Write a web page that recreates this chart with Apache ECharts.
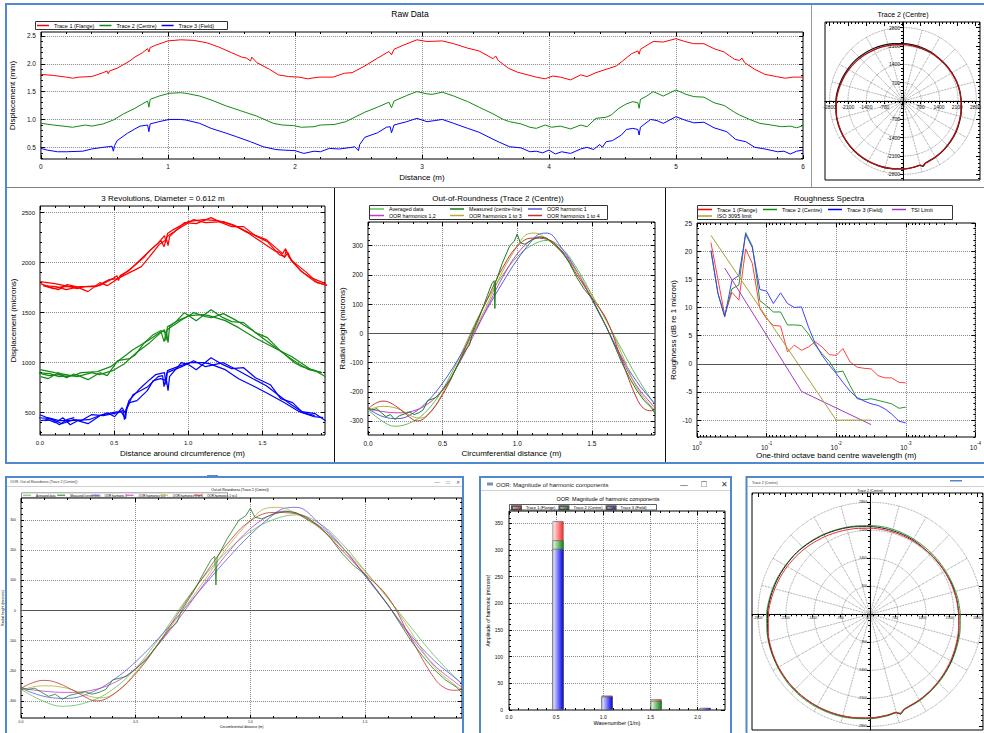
<!DOCTYPE html>
<html><head><meta charset="utf-8">
<script src="https://cdn.jsdelivr.net/npm/echarts@6/dist/echarts.min.js"></script>
<style>html,body{margin:0;padding:0;background:#fff;}#c{width:984px;height:733px;}</style>
</head><body><div id="c"></div>
<script>
// ================= DATA =================
const circumference = 1.923;
const rawTrace1 = [[0,1.81],[0.1,1.79],[0.2,1.76],[0.25,1.74],[0.3,1.76],[0.4,1.77],[0.49,1.84],[0.52,1.87],[0.53,1.82],[0.54,1.87],[0.6,1.92],[0.7,2.05],[0.74,2.12],[0.8,2.2],[0.84,2.27],[0.85,2.21],[0.86,2.29],[0.9,2.33],[1.0,2.41],[1.1,2.43],[1.2,2.42],[1.3,2.38],[1.34,2.35],[1.4,2.3],[1.5,2.2],[1.58,2.12],[1.62,2.1],[1.65,2.05],[1.66,2.12],[1.7,2.02],[1.8,1.9],[1.87,1.8],[1.95,1.77],[2.03,1.76],[2.1,1.73],[2.19,1.76],[2.3,1.76],[2.39,1.83],[2.45,1.84],[2.55,1.96],[2.65,2.1],[2.74,2.22],[2.76,2.16],[2.78,2.26],[2.85,2.33],[2.96,2.43],[3.04,2.4],[3.16,2.41],[3.25,2.36],[3.36,2.28],[3.45,2.23],[3.56,2.09],[3.58,2.14],[3.6,2.06],[3.68,1.92],[3.75,1.85],[3.85,1.79],[3.9,1.76],[3.97,1.73],[4.03,1.78],[4.09,1.76],[4.17,1.71],[4.25,1.8],[4.3,1.77],[4.37,1.84],[4.45,1.9],[4.53,1.96],[4.58,2.05],[4.65,2.18],[4.7,2.23],[4.71,2.17],[4.72,2.26],[4.82,2.4],[4.9,2.39],[5.0,2.45],[5.07,2.4],[5.14,2.36],[5.22,2.36],[5.3,2.27],[5.38,2.21],[5.46,2.08],[5.5,2.06],[5.52,2.1],[5.54,2.02],[5.62,1.9],[5.7,1.81],[5.79,1.77],[5.86,1.74],[5.92,1.76],[6.0,1.76]];
const rawTrace2 = [[0,0.93],[0.1,0.9],[0.25,0.86],[0.3,0.88],[0.35,0.9],[0.4,0.88],[0.49,0.92],[0.57,0.99],[0.65,1.1],[0.74,1.2],[0.8,1.28],[0.84,1.33],[0.85,1.22],[0.86,1.36],[0.93,1.42],[1.01,1.47],[1.1,1.48],[1.14,1.47],[1.25,1.42],[1.34,1.35],[1.45,1.25],[1.58,1.15],[1.7,1.06],[1.83,0.93],[1.9,0.9],[1.99,0.89],[2.05,0.86],[2.15,0.87],[2.2,0.9],[2.31,0.91],[2.4,0.96],[2.55,1.13],[2.65,1.22],[2.74,1.31],[2.76,1.21],[2.78,1.33],[2.88,1.43],[2.96,1.5],[3.04,1.46],[3.08,1.45],[3.16,1.49],[3.25,1.42],[3.36,1.32],[3.45,1.22],[3.56,1.1],[3.64,1.0],[3.69,0.96],[3.78,0.92],[3.85,0.86],[3.9,0.84],[3.97,0.9],[4.02,0.86],[4.09,0.88],[4.17,0.83],[4.25,0.9],[4.3,0.87],[4.37,1.02],[4.45,1.04],[4.49,1.08],[4.55,1.2],[4.61,1.28],[4.66,1.32],[4.7,1.3],[4.71,1.2],[4.72,1.36],[4.77,1.42],[4.82,1.5],[4.9,1.42],[5.0,1.53],[5.08,1.45],[5.14,1.41],[5.22,1.4],[5.3,1.3],[5.38,1.25],[5.46,1.13],[5.5,1.08],[5.58,1.0],[5.66,0.93],[5.75,0.9],[5.83,0.87],[5.9,0.88],[5.95,0.85],[6.0,0.89]];
const rawTrace3 = [[0,0.48],[0.05,0.45],[0.13,0.42],[0.2,0.42],[0.33,0.43],[0.4,0.47],[0.49,0.5],[0.53,0.51],[0.56,0.52],[0.57,0.43],[0.58,0.53],[0.6,0.62],[0.68,0.75],[0.74,0.83],[0.78,0.88],[0.84,0.9],[0.85,0.78],[0.86,0.92],[0.93,0.96],[1.01,1.0],[1.1,1.0],[1.14,0.99],[1.25,0.93],[1.34,0.84],[1.45,0.76],[1.54,0.69],[1.65,0.6],[1.75,0.51],[1.85,0.46],[1.91,0.45],[2.0,0.44],[2.07,0.39],[2.15,0.43],[2.2,0.42],[2.27,0.48],[2.35,0.47],[2.45,0.5],[2.47,0.51],[2.5,0.44],[2.51,0.55],[2.55,0.68],[2.65,0.76],[2.72,0.86],[2.75,0.87],[2.76,0.76],[2.78,0.9],[2.88,0.96],[2.96,1.02],[3.04,0.96],[3.1,0.98],[3.16,1.0],[3.25,0.93],[3.36,0.84],[3.45,0.77],[3.52,0.69],[3.6,0.6],[3.69,0.51],[3.78,0.49],[3.85,0.42],[3.9,0.43],[3.95,0.4],[4.0,0.45],[4.05,0.38],[4.1,0.42],[4.17,0.39],[4.25,0.47],[4.3,0.5],[4.35,0.46],[4.4,0.55],[4.42,0.5],[4.45,0.6],[4.5,0.62],[4.57,0.72],[4.61,0.82],[4.66,0.84],[4.7,0.82],[4.71,0.72],[4.72,0.86],[4.8,1.0],[4.85,0.98],[4.9,0.93],[5.0,1.05],[5.08,0.98],[5.14,0.94],[5.22,0.95],[5.3,0.85],[5.4,0.78],[5.47,0.64],[5.55,0.6],[5.62,0.5],[5.7,0.47],[5.8,0.42],[5.85,0.43],[5.9,0.38],[5.95,0.43],[6.0,0.45]];

const oorAveraged = [[0,-262],[0.1,-302],[0.18,-318],[0.3,-302],[0.4,-262],[0.5,-192],[0.6,-95],[0.66,-30],[0.7,15],[0.8,115],[0.9,198],[1.0,262],[1.1,302],[1.2,318],[1.3,290],[1.4,222],[1.5,132],[1.6,40],[1.7,-55],[1.8,-148],[1.9,-228],[1.923,-245]];
const oorMeasured = [[0,-255],[0.03,-262],[0.06,-258],[0.09,-272],[0.12,-285],[0.15,-278],[0.18,-295],[0.21,-282],[0.25,-275],[0.28,-270],[0.31,-278],[0.34,-272],[0.37,-262],[0.4,-230],[0.43,-225],[0.46,-218],[0.5,-195],[0.55,-160],[0.6,-110],[0.65,-60],[0.68,-40],[0.7,0],[0.75,60],[0.8,130],[0.83,170],[0.845,180],[0.85,85],[0.855,175],[0.9,240],[0.95,300],[0.98,315],[1.0,340],[1.02,310],[1.05,305],[1.1,320],[1.15,330],[1.2,325],[1.3,280],[1.35,240],[1.4,190],[1.45,150],[1.5,120],[1.55,70],[1.6,20],[1.65,-40],[1.7,-100],[1.75,-150],[1.8,-195],[1.85,-230],[1.9,-255],[1.923,-275]];
const oorH1 = [[0,-258],[0.1,-285],[0.2,-292],[0.3,-274],[0.4,-232],[0.5,-170],[0.6,-92],[0.7,-5],[0.8,85],[0.9,172],[1.0,252],[1.1,318],[1.15,340],[1.2,343],[1.3,290],[1.4,212],[1.5,115],[1.6,18],[1.7,-82],[1.8,-165],[1.9,-228],[1.923,-242]];
const oorH12 = [[0,-258],[0.1,-268],[0.2,-272],[0.3,-266],[0.4,-242],[0.5,-192],[0.6,-112],[0.7,-15],[0.8,90],[0.9,190],[1.0,272],[1.1,322],[1.15,330],[1.2,324],[1.3,282],[1.4,210],[1.5,118],[1.6,18],[1.7,-88],[1.8,-180],[1.9,-242],[1.923,-255]];
const oorH13 = [[0,-265],[0.05,-254],[0.1,-250],[0.2,-258],[0.3,-285],[0.35,-290],[0.42,-268],[0.5,-205],[0.6,-108],[0.7,-5],[0.8,100],[0.9,210],[1.0,298],[1.07,340],[1.12,343],[1.2,322],[1.3,275],[1.4,210],[1.5,130],[1.6,42],[1.7,-70],[1.8,-185],[1.9,-252],[1.923,-262]];
const oorH14 = [[0,-258],[0.05,-240],[0.1,-232],[0.15,-238],[0.22,-262],[0.3,-295],[0.33,-300],[0.4,-280],[0.5,-210],[0.6,-108],[0.7,8],[0.8,118],[0.9,222],[1.0,298],[1.1,326],[1.2,322],[1.3,278],[1.4,200],[1.5,122],[1.6,45],[1.7,-92],[1.8,-222],[1.85,-258],[1.9,-265],[1.923,-258]];

const roughBands = [0.63,0.5,0.4,0.315,0.25,0.2,0.16,0.125,0.1,0.08,0.063,0.05,0.04,0.0315,0.025,0.02,0.016,0.0125,0.01,0.008,0.0063,0.005,0.004,0.00315,0.0025,0.002,0.0016,0.00125,0.001];
const roughTrace1 = [21.5,15.0,8.6,12.7,11.3,20.4,17.8,9.8,8.0,6.8,6.7,2.1,3.3,2.4,3.0,3.9,3.0,1.6,1.5,2.7,0.3,-0.6,-0.8,-0.9,-2.1,-2.5,-2.5,-3.3,-3.4];
const roughTrace2 = [20.1,12.5,8.5,13.3,14.0,23.3,20.9,11.2,10.3,9.2,9.2,6.9,6.9,6.8,5.3,3.3,1.8,0.4,-1.5,-1.3,-3.9,-6.2,-6.4,-6.2,-6.5,-6.8,-7.1,-7.9,-7.7];
const roughTrace3 = [20.1,12.5,8.3,14.8,15.7,23.0,20.6,13.2,12.9,10.7,12.6,10.7,10.0,10.1,6.5,3.6,1.5,-0.3,-1.7,-3.3,-4.9,-6.0,-6.6,-7.1,-7.4,-8.0,-8.9,-10.2,-10.5];
const isoBands = [0.63,0.01,0.00315];
const isoLimit = [22.8,-10,-10];
const tsiBands = [0.4,0.0315,0.00315];
const tsiLimit = [17.0,-4.9,-10.8];

const harmWavenumber = [0.52,1.04,1.56,2.08];
const harmTrace1 = [354,27,20,3];
const harmTrace2 = [318,25,17,3];
const harmTrace3 = [302,25,1,4];

const polarAngles = [0,10,20,30,40,50,60,70,80,90,100,110,120,130,140,150,160,170,180,190,200,210,220,230,240,250,260,270,280,285,287,289,290,300,310,320,330,340,350,360];
const polarBlack = [2225,2200,2180,2152,2140,2130,2148,2160,2175,2192,2222,2258,2300,2343,2395,2432,2478,2522,2562,2596,2630,2646,2658,2662,2656,2642,2620,2594,2560,2542,2605,2548,2520,2476,2430,2383,2345,2295,2258,2225];
const polarRed   = [2215,2192,2166,2148,2130,2122,2124,2130,2140,2152,2175,2205,2245,2290,2338,2390,2440,2492,2540,2582,2615,2640,2652,2655,2650,2636,2615,2590,2555,2535,2585,2530,2515,2468,2420,2372,2325,2282,2245,2215];
const polarGreen = [2260,2232,2200,2180,2170,2166,2175,2192,2210,2218,2240,2270,2312,2356,2400,2445,2495,2540,2585,2615,2640,2662,2680,2688,2680,2665,2640,2612,2575,2555,2610,2555,2535,2490,2446,2400,2356,2318,2288,2260];

const rawTicksX = [0,1,2,3,4,5,6];
const rawTicksY = [0.5,1.0,1.5,2.0,2.5];
const revTicksY = [500,1000,1500,2000,2500];
const distTicks = [0,0.5,1.0,1.5];
const oorTicksY = [-300,-200,-100,0,100,200,300];
const roughTicksY = [-10,-5,0,5,10,15,20,25];
const polarTicks = [-2800,-2100,-1400,-700,0,700,1400,2100,2800];
const polarTicksY = [-2800,-2100,-1400,-700,700,1400,2100,2800];
const harmTicksX = [0,0.5,1.0,1.5,2.0];
const harmTicksY = [0,50,100,150,200,250,300,350];

// ================= HELPERS =================
const FONT = 'Liberation Sans, Arial, sans-serif';
const BLUE = '#5188d0';
function range(a, b, s) { const o = []; for (let v = a; v <= b + s * 1e-6; v += s) o.push(Math.round(v * 1e6) / 1e6); return o; }
const grids = [], xAxes = [], yAxes = [], series = [], legends = [], graphics = [];
function addGrid(l, t, w, h) { grids.push({left: l, top: t, width: w, height: h, show: true, borderColor: '#000', borderWidth: 1, backgroundColor: 'transparent', containLabel: false}); return grids.length - 1; }
const tickStyle = {color: '#000', width: 1};
function addAxisSet(list, gi, isX, o) {
  const p0 = isX ? 'bottom' : 'left', p1 = isX ? 'top' : 'right';
  const isLog = o.type === 'log';
  const base = () => ({gridIndex: gi, type: o.type || 'value', min: o.min, max: o.max, inverse: !!o.inverse, silent: true});
  const mk = (values, len, inside) => { const t = {show: true, inside: inside, length: len, lineStyle: tickStyle}; if (!isLog) t.customValues = values; return t; };
  const logMinor = {show: true, splitNumber: 10, length: 2, lineStyle: tickStyle};
  const mainIdx = list.length;
  const main = Object.assign(base(), {
    position: p0, offset: o.offset || 0,
    axisLine: {show: !!o.centerLine, onZero: false, lineStyle: {color: '#000', width: 1}},
    axisTick: mk(o.majors, o.tickLen || 4, !o.tickOut),
    minorTick: isLog ? logMinor : {show: false},
    axisLabel: {show: true, fontSize: o.fs, color: '#111', fontFamily: FONT, margin: o.margin, formatter: o.fmt},
    splitLine: {show: o.split !== false, lineStyle: {type: 'dotted', color: '#8a8a8a', width: 1}}
  });
  if (!isLog) main.axisLabel.customValues = o.labels || o.majors;
  if (o.rich) main.axisLabel.rich = o.rich;
  if (o.name) { main.name = o.name; main.nameLocation = 'middle'; main.nameGap = o.nameGap; main.nameTextStyle = {fontSize: o.nfs, color: '#000', fontFamily: FONT}; }
  list.push(main);
  if (!isLog && o.minors) list.push(Object.assign(base(), {position: p0, offset: o.offset || 0, axisLine: {show: false, onZero: false}, axisTick: mk(o.minors, o.minorLen || 2, !o.tickOut), axisLabel: {show: false}, splitLine: {show: false}, minorTick: {show: false}}));
  if (o.frame !== false) {
    list.push(Object.assign(base(), {position: p1, axisLine: {show: false, onZero: false}, axisTick: mk(o.majors, o.frameLen || 4, true), axisLabel: {show: false}, splitLine: {show: false}, minorTick: isLog ? logMinor : {show: false}}));
    if (!isLog && o.minors) list.push(Object.assign(base(), {position: p1, axisLine: {show: false, onZero: false}, axisTick: mk(o.minors, 2, true), axisLabel: {show: false}, splitLine: {show: false}, minorTick: {show: false}}));
  }
  return mainIdx;
}
function line(name, data, color, xi, yi, extra) {
  return Object.assign({type: 'line', name, data, xAxisIndex: xi, yAxisIndex: yi, showSymbol: false, symbol: 'none', lineStyle: {color, width: 1}, itemStyle: {color}, color, animation: false}, extra || {});
}
function legendItem(names, x, y, fs, iw, ih, gap, fmt) {
  return {data: names, left: x, top: y, orient: 'horizontal', itemWidth: iw, itemHeight: ih, itemGap: gap || 0, padding: 0, icon: 'rect', selectedMode: false, textStyle: {fontSize: fs, color: '#000', fontFamily: FONT}, formatter: fmt};
}
function txt(text, x, y, size, align, color) {
  return {type: 'text', x, y, silent: true, z: 100, style: {text, fontSize: size, fontFamily: FONT, fill: color || '#000', align: align || 'center', textAlign: align || 'center', verticalAlign: 'middle', textVerticalAlign: 'middle'}};
}
function rectStroke(x, y, w, h, color, lw) { return {type: 'rect', silent: true, z: 100, shape: {x, y, width: w, height: h}, style: {fill: 'none', stroke: color, lineWidth: lw || 1}}; }
function rectFill(x, y, w, h, color) { return {type: 'rect', silent: true, z: 100, shape: {x, y, width: w, height: h}, style: {fill: color}}; }
function hline(x1, x2, y, color) { return {type: 'line', silent: true, z: 100, shape: {x1, y1: y, x2, y2: y}, style: {stroke: color, lineWidth: 1}}; }
function vline(x, y1, y2, color) { return {type: 'line', silent: true, z: 100, shape: {x1: x, y1, x2: x, y2}, style: {stroke: color, lineWidth: 1}}; }
const f1 = v => Number(v).toFixed(1);
const f0 = v => String(Math.round(v));

const C1 = '#ff0000', C2 = '#138a13', C3 = '#0000ff';
const COL_AVG = '#5cc05c', COL_MEAS = '#1a7d1a', COL_H1 = '#5a5ae0', COL_H12 = '#c83cc8', COL_H13 = '#b5ad3c', COL_H14 = '#c03535';

// ================= PANEL: RAW DATA =================
const gRaw = addGrid(35, 32, 768, 127);
const rawX = addAxisSet(xAxes, gRaw, true, {min: 0, max: 6, majors: rawTicksX, minors: range(0, 6, 0.2), fmt: f0, fs: 6.5, margin: 4, name: 'Distance (m)', nameGap: 14, nfs: 8});
const rawY = addAxisSet(yAxes, gRaw, false, {min: 0.29, max: 2.57, majors: rawTicksY, minors: range(0.3, 2.5, 0.1), fmt: f1, fs: 6.5, margin: 5, name: 'Displacement (mm)', nameGap: 18, nfs: 8});
series.push(line('Trace 1 (Flange)', rawTrace1, C1, rawX, rawY));
series.push(line('Trace 2 (Centre)', rawTrace2, C2, rawX, rawY));
series.push(line('Trace 3 (Field)', rawTrace3, C3, rawX, rawY));
legends.push(legendItem(['Trace 1 (Flange)', 'Trace 2 (Centre)', 'Trace 3 (Field)'], 37, 22.5, 5.5, 12, 1.5, 5));

// ================= PANEL: 3 REVOLUTIONS =================
const gRev = addGrid(40, 206, 285, 229);
const revX = addAxisSet(xAxes, gRev, true, {min: 0, max: circumference, majors: distTicks, minors: range(0, 1.9, 0.1), fmt: f1, fs: 6, margin: 5, name: 'Distance around circumference (m)', nameGap: 14, nfs: 8});
const revY = addAxisSet(yAxes, gRev, false, {min: 277, max: 2566, majors: revTicksY, minors: range(300, 2500, 100), fmt: f0, fs: 6, margin: 5, name: 'Displacement (microns)', nameGap: 22, nfs: 8});
[[rawTrace1, C1], [rawTrace2, C2], [rawTrace3, C3]].forEach(([tr, col], ti) => {
  for (let k = 0; k < 4; k++) {
    const seg = tr.filter(p => p[0] >= k * circumference - 0.03 && p[0] <= (k + 1) * circumference + 0.03)
                  .map(p => [Math.round((p[0] - k * circumference) * 10000) / 10000, Math.round(p[1] * 1000)]);
    series.push(line('rev' + ti + '_' + k, seg, col, revX, revY, {lineStyle: {color: col, width: 1.2}}));
  }
});

// ================= PANEL: OUT-OF-ROUNDNESS =================
const OOR_NAMES = ['Averaged data', 'Measured (centre-line)', 'OOR harmonic 1', 'OOR harmonics 1,2', 'OOR harmonics 1 to 3', 'OOR harmonics 1 to 4'];
function oorSeries(xi, yi, lw) {
  const zero = {silent: true, symbol: 'none', label: {show: false}, lineStyle: {color: '#555', type: 'solid', width: 1}, data: [{yAxis: 0}]};
  return [
    line(OOR_NAMES[0], oorAveraged, COL_AVG, xi, yi, {smooth: 0.4, lineStyle: {color: COL_AVG, width: lw}, markLine: zero}),
    line(OOR_NAMES[2], oorH1, COL_H1, xi, yi, {smooth: 0.4, lineStyle: {color: COL_H1, width: lw}}),
    line(OOR_NAMES[3], oorH12, COL_H12, xi, yi, {smooth: 0.4, lineStyle: {color: COL_H12, width: lw}}),
    line(OOR_NAMES[4], oorH13, COL_H13, xi, yi, {smooth: 0.4, lineStyle: {color: COL_H13, width: lw}}),
    line(OOR_NAMES[5], oorH14, COL_H14, xi, yi, {smooth: 0.4, lineStyle: {color: COL_H14, width: lw}}),
    line(OOR_NAMES[1], oorMeasured, COL_MEAS, xi, yi, {lineStyle: {color: COL_MEAS, width: lw}})
  ];
}
const gOor = addGrid(368, 222, 287, 213);
const oorX = addAxisSet(xAxes, gOor, true, {min: 0, max: circumference, majors: distTicks, minors: range(0, 1.9, 0.1), fmt: f1, fs: 6.5, margin: 5, name: 'Circumferential distance (m)', nameGap: 14, nfs: 8});
const oorY = addAxisSet(yAxes, gOor, false, {min: -348, max: 381, majors: oorTicksY, minors: range(-340, 380, 20), fmt: f0, fs: 6.5, margin: 5, name: 'Radial height (microns)', nameGap: 21, nfs: 8});
series.push(...oorSeries(oorX, oorY, 1));
[[0, 370, 206.5], [1, 450, 206.5], [2, 528, 206.5], [3, 370, 213], [4, 450, 213], [5, 528, 213]].forEach(([i, x, y]) => legends.push(legendItem([OOR_NAMES[i]], x, y, 5.3, 14, 1.5)));

// ================= PANEL: ROUGHNESS SPECTRA =================
const gR = addGrid(697, 223, 286, 214);
const rX = addAxisSet(xAxes, gR, true, {type: 'log', min: 0.0001, max: 1, inverse: true, fs: 6.5, margin: 4,
  fmt: v => '{b|10}{s|' + Math.round(Math.log10(v)) + '}',
  rich: {b: {fontSize: 6.5, fontFamily: FONT, color: '#111', verticalAlign: 'bottom', lineHeight: 10}, s: {fontSize: 4.5, fontFamily: FONT, color: '#111', verticalAlign: 'top', lineHeight: 10}},
  name: 'One-third octave band centre wavelength (m)', nameGap: 12, nfs: 8});
const rY = addAxisSet(yAxes, gR, false, {min: -13, max: 25, majors: roughTicksY, minors: range(-13, 25, 1), fmt: f0, fs: 6.5, margin: 5, name: 'Roughness (dB re 1 micron)', nameGap: 20, nfs: 8});
const zeroR = {silent: true, symbol: 'none', label: {show: false}, lineStyle: {color: '#555', type: 'solid', width: 1}, data: [{yAxis: 0}]};
series.push(line('Trace 1 (Flange)', roughBands.map((b, i) => [b, roughTrace1[i]]), '#ff4040', rX, rY, {markLine: zeroR}));
series.push(line('Trace 2 (Centre)', roughBands.map((b, i) => [b, roughTrace2[i]]), '#2c962c', rX, rY));
series.push(line('Trace 3 (Field)', roughBands.map((b, i) => [b, roughTrace3[i]]), '#4040ff', rX, rY));
series.push(line('TSI Limit', tsiBands.map((b, i) => [b, tsiLimit[i]]), '#a03cc0', rX, rY));
series.push(line('ISO 3095 limit', isoBands.map((b, i) => [b, isoLimit[i]]), '#a8a030', rX, rY));
[['Trace 1 (Flange)', 698, 206.5], ['Trace 2 (Centre)', 763, 206.5], ['Trace 3 (Field)', 828, 206.5], ['TSI Limit', 892, 206.5], ['ISO 3095 limit', 698, 213]].forEach(([n, x, y]) => legends.push(legendItem([n], x, y, 5.5, 14, 1.5)));

// ================= PANEL: POLAR (top right) =================
const gP1 = addGrid(825, 22, 156, 158);
const p1X = addAxisSet(xAxes, gP1, true, {min: -2975, max: 2975, majors: polarTicks, minors: range(-2940, 2940, 140), centerLine: true, offset: -79, tickOut: true, tickLen: 3, fmt: f0, fs: 5, margin: 3, split: false});
const p1Y = addAxisSet(yAxes, gP1, false, {min: -3015, max: 3015, majors: polarTicks, labels: polarTicksY, minors: range(-2940, 2940, 140), centerLine: true, offset: -78, tickOut: true, tickLen: 3, fmt: f0, fs: 5, margin: 3, split: false});

// ================= PANEL: OOR (bottom left window) =================
const gBL = addGrid(21, 498, 441, 220);
const blX = addAxisSet(xAxes, gBL, true, {min: 0, max: circumference, majors: distTicks, minors: range(0, 1.9, 0.1), fmt: f1, fs: 3.5, margin: 2, name: 'Circumferential distance (m)', nameGap: 5, nfs: 3.5, tickLen: 3});
const blY = addAxisSet(yAxes, gBL, false, {min: -357, max: 374, majors: oorTicksY, minors: range(-340, 360, 20), fmt: f0, fs: 3.5, margin: 5, name: 'Radial height (microns)', nameGap: 11, nfs: 3.5, tickLen: 3});
series.push(...oorSeries(blX, blY, 0.8));
OOR_NAMES.forEach((n, i) => legends.push(legendItem([n], 23 + 34.2 * i, 493.7, 3, 8, 1)));

// ================= PANEL: HARMONIC BARS =================
const gB = addGrid(509, 511, 216, 199);
const bX = addAxisSet(xAxes, gB, true, {min: 0, max: 2.29, majors: harmTicksX, minors: range(0, 2.2, 0.1), fmt: f1, fs: 5, margin: 4, name: 'Wavenumber (1/m)', nameGap: 9, nfs: 5.5, tickLen: 3});
const bY = addAxisSet(yAxes, gB, false, {min: 0, max: 373, majors: harmTicksY, minors: range(0, 370, 10), fmt: f0, fs: 5, margin: 6, name: 'Amplitude of harmonic (microns)', nameGap: 17, nfs: 5, tickLen: 3});
function grad(c0, c1) { return new echarts.graphic.LinearGradient(0, 0, 1, 0, [{offset: 0, color: c0}, {offset: 1, color: c1}]); }
[[harmTrace1, grad('#fff2f2', '#ff2a2a'), 'Trace 1 (Flange)'], [harmTrace2, grad('#eefbee', '#0a8a0a'), 'Trace 2 (Centre)'], [harmTrace3, grad('#f0f0ff', '#0000f0'), 'Trace 3 (Field)']].forEach(([vals, col, n]) => {
  series.push({type: 'bar', name: 'Harmonic: ' + n, xAxisIndex: bX, yAxisIndex: bY, data: harmWavenumber.map((w, i) => [w, vals[i]]), barWidth: 11, barGap: '-100%', itemStyle: {color: col, borderColor: '#555', borderWidth: 0.6}, animation: false});
});
legends.push(legendItem(['Harmonic: Trace 1 (Flange)', 'Harmonic: Trace 2 (Centre)', 'Harmonic: Trace 3 (Field)'], 511, 505.3, 4, 9, 3.2, 3, n => n.replace('Harmonic: ', '')));

// ================= PANEL: POLAR (bottom right window) =================
const gP2 = addGrid(752, 493, 236, 237);
const p2X = addAxisSet(xAxes, gP2, true, {min: -2950, max: 2950, majors: polarTicks, minors: range(-2940, 2940, 140), centerLine: true, offset: -115.7, tickOut: true, tickLen: 3, fmt: f0, fs: 3.5, margin: 2, split: false});
const p2Y = addAxisSet(yAxes, gP2, false, {min: -2892, max: 3032, majors: polarTicks, labels: polarTicksY, minors: range(-2800, 2940, 140), centerLine: true, offset: -118, tickOut: true, tickLen: 3, fmt: f0, fs: 3.5, margin: 3, split: false});

// polar systems
const polarSys = [{center: [903, 101], radius: 73.4}, {center: [870, 614.3], radius: 112}];
const angleAxes = [0, 1].map(i => ({polarIndex: i, type: 'value', min: 0, max: 360, interval: 15, startAngle: 0, clockwise: false, silent: true, axisLine: {show: false}, axisTick: {show: false}, axisLabel: {show: false}, splitLine: {show: true, lineStyle: {type: 'dotted', color: '#7a7a7a', width: 0.8}}}));
const radiusAxes = [0, 1].map(i => ({polarIndex: i, type: 'value', min: 0, max: 2800, interval: 700, silent: true, axisLine: {show: false}, axisTick: {show: false}, axisLabel: {show: false}, splitLine: {show: true, lineStyle: {type: 'dotted', color: '#7a7a7a', width: 0.8}}}));
function polarLine(name, radii, color, pi, lw) {
  return {type: 'line', name, coordinateSystem: 'polar', polarIndex: pi, data: polarAngles.map((a, i) => [radii[i], a]), showSymbol: false, symbol: 'none', smooth: 0.3, lineStyle: {color, width: lw}, color, animation: false};
}
series.push(polarLine('Polar black', polarBlack, '#111', 0, 1.2));
series.push(polarLine('Polar red', polarRed, '#b01010', 0, 1.3));
series.push(polarLine('Polar green (window)', polarGreen, '#3aa03a', 1, 1));
series.push(polarLine('Polar black (window)', polarBlack, '#222', 1, 1));
series.push(polarLine('Polar red (window)', polarRed, '#e03030', 1, 1));

// ================= FRAMES & TITLES =================
graphics.push(
  rectFill(5, 3, 979, 2, BLUE), rectFill(5, 3, 2, 461, BLUE), rectFill(5, 462, 979, 2, BLUE),
  hline(7, 984, 187.5, '#808080'), vline(811.5, 5, 187, '#9a9a9a'),
  vline(334.5, 188, 462, '#111'), vline(665.5, 188, 462, '#111'),
  rectStroke(35.5, 21.5, 192, 8, '#333'),
  rectStroke(369.5, 205.5, 238, 14, '#333'),
  rectStroke(697.5, 205.5, 255, 14, '#333'),
  rectStroke(21.5, 492.8, 206, 4.6, '#555', 0.6),
  rectStroke(509.5, 504.5, 147, 5.5, '#333', 0.8),
  // windows
  rectStroke(6, 477, 457, 262, BLUE, 2), hline(7, 462, 486.5, '#d0d0d0'), rectFill(207, 475, 11, 2, BLUE),
  rectStroke(480, 477, 251, 262, BLUE, 2), hline(481, 730, 490.5, '#d0d0d0'), rectFill(487, 482.5, 6, 3, '#7a8fb8'),
  rectStroke(746.5, 477, 245, 262, BLUE, 2), hline(748, 984, 486.5, '#d0d0d0'), rectFill(950, 480, 12, 1.5, BLUE),
  txt('Raw Data', 410, 13.5, 8.5),
  txt('Trace 2 (Centre)', 903, 14.5, 7),
  txt('3 Revolutions, Diameter = 0.612 m', 163, 198, 8),
  txt('Out-of-Roundness (Trace 2 (Centre))', 498, 198, 8),
  txt('Roughness Spectra', 829, 198, 8),
  txt('OOR: Out-of-Roundness (Trace 2 (Centre))', 10, 482, 3.5, 'left', '#333'),
  txt('Out-of-Roundness (Trace 2 (Centre))', 240, 489.5, 3.5),
  txt('—', 437, 482, 5, 'center', '#555'), txt('□', 448, 482, 5, 'center', '#555'), txt('✕', 458, 482, 5, 'center', '#555'),
  txt('OOR: Magnitude of harmonic components', 496, 484.5, 6, 'left', '#222'),
  txt('OOR: Magnitude of harmonic components', 608, 498.5, 5.5),
  txt('—', 684, 484, 8, 'center', '#333'), txt('□', 704, 484, 9, 'center', '#333'), txt('✕', 724, 484, 8, 'center', '#333'),
  txt('Trace 2 (Centre)', 752, 483, 3.5, 'left', '#333'),
  txt('Trace 2 (Centre)', 870, 490.5, 3.5)
);

const chart = echarts.init(document.getElementById('c'), null, {renderer: 'svg'});
chart.setOption({
  animation: false,
  backgroundColor: '#fff',
  textStyle: {fontFamily: FONT},
  grid: grids, xAxis: xAxes, yAxis: yAxes,
  polar: polarSys, angleAxis: angleAxes, radiusAxis: radiusAxes,
  legend: legends, series: series, graphic: graphics
});
</script></body></html>
